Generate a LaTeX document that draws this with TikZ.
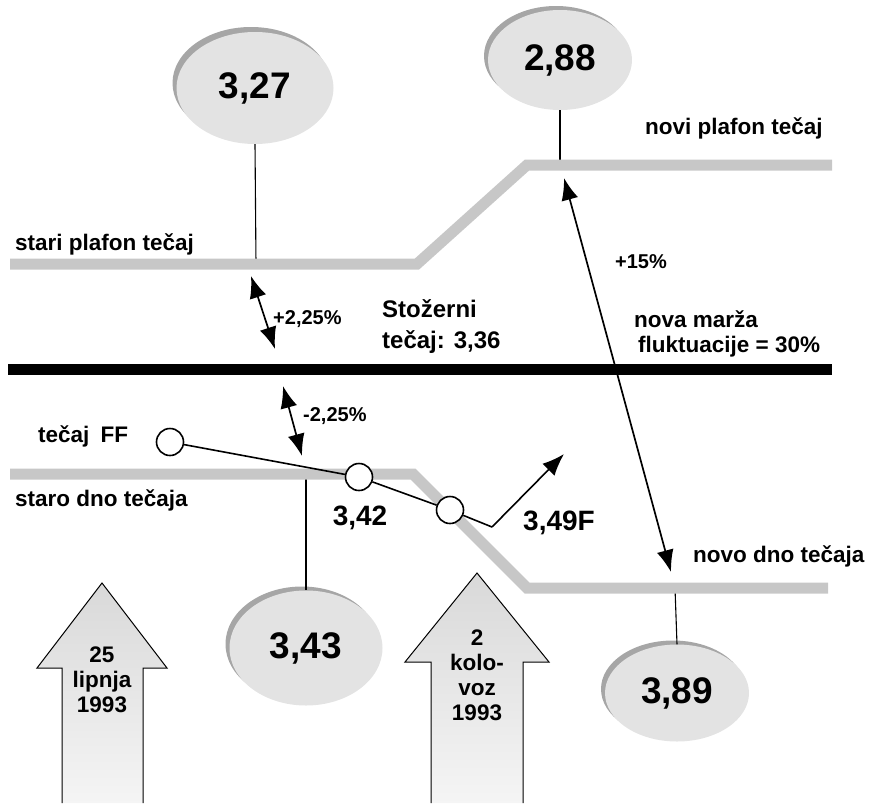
\documentclass[tikz,border=0pt]{standalone}
\usepackage{fontspec}
\setmainfont{Liberation Sans}
\usetikzlibrary{shapes.geometric,arrows.meta}
\newcommand\lblfont{\fontsize{22.5}{25}\selectfont\bfseries}
\newcommand\bigfont{\fontsize{37}{40}\selectfont\bfseries}
\newcommand\midfont{\fontsize{28}{30}\selectfont\bfseries}
\newcommand\pctfont{\fontsize{20}{22}\selectfont\bfseries}
\begin{document}
\begin{tikzpicture}[x=1pt,y=-1pt,
  band/.style={line width=11pt, draw=black!22, line join=miter},
  midband/.style={line width=11pt, draw=black},
  conn/.style={line width=1.1pt, draw=black},
  disk/.style={ellipse, fill=black!11, inner sep=0pt, font=\bigfont},
  rim/.style={fill=black!35},
  ffline/.style={line width=1.6pt},
  ffc/.style={circle, draw=black, line width=1.6pt, fill=white, minimum size=27pt, inner sep=0pt},
  lbl/.style={font=\lblfont, inner sep=0pt},
  pct/.style={font=\pctfont, inner sep=0pt},
  bigarrow/.style={top color=black!15, bottom color=black!4},
  datetxt/.style={font=\lblfont, align=center, inner sep=0pt}
]
\useasboundingbox (0,0) rectangle (869,803);

% big date arrows
\path[bigarrow] (62,803) -- (62,668) -- (37,668) -- (102,583) -- (167,668) -- (143,668) -- (143,803) -- cycle;
\draw[line width=1pt] (62,803) -- (62,668) -- (37,668) -- (102,583) -- (167,668) -- (143,668) -- (143,803);
\path[bigarrow] (431,803) -- (431,662) -- (405,662) -- (477,573) -- (549,662) -- (523,662) -- (523,803) -- cycle;
\draw[line width=1pt] (431,803) -- (431,662) -- (405,662) -- (477,573) -- (549,662) -- (523,662) -- (523,803);
\node[datetxt] (d1) at (102,680) {25\\lipnja\\1993};
\node[datetxt, text height=17pt] (d2) at (477,712) {2\\kolo-\\voz\\1993};

% ellipse rims
\fill[rim] (251,83) ellipse [x radius=78.5pt, y radius=56pt];
\fill[rim] (556,56) ellipse [x radius=72pt, y radius=50pt];
\fill[rim] (302,644) ellipse [x radius=76.5pt, y radius=57.5pt];
\fill[rim] (673,689) ellipse [x radius=72pt, y radius=48.5pt];

% ellipses
\node[disk, minimum width=157pt, minimum height=112pt] (e327) at (255,88) {3,27};
\node[disk, minimum width=144pt, minimum height=100pt] (e288) at (560,60) {2,88};
\node[disk, minimum width=153pt, minimum height=115pt] (e343) at (306,648) {3,43};
\node[disk, minimum width=144pt, minimum height=97pt] (e389) at (677,693) {3,89};

% band anchor points
\coordinate (b327) at (256,264);
\coordinate (b288) at (560,165);
\coordinate (b343) at (306,474);
\coordinate (b389) at (675,588);
\draw[conn] (e327.south) -- (b327);
\draw[conn] (e288.south) -- (b288);
\draw[conn] (b343) -- (e343.north);
\draw[conn] (b389) -- (e389.north);

% bands
\draw[band] (10,264) -- (417,264) -- (527,165) -- (832,165);
\draw[band] (10,474) -- (413,474) -- (527,588) -- (828,588);
\draw[midband] (8,369) -- (832,369);

% labels
\node[lbl, anchor=west] (t1) at (15,244) {stari plafon tečaj};
\node[lbl, anchor=west] (t2) at (645,128) {novi plafon tečaj};
\node[lbl, anchor=west] (t3) at (15,500) {staro dno tečaja};
\node[lbl, anchor=west] (t4) at (693,556) {novo dno tečaja};
\node[lbl, anchor=west] (t5) at (38,436) {tečaj\hspace{0.5em}FF};
\node[font=\fontsize{24}{31}\selectfont\bfseries, align=left, anchor=west, inner sep=0pt] (t6) at (382,327) {Stožerni\\tečaj: 3,36};
\node[lbl, align=left, anchor=west] (t7) at (634,334) {nova marža\\\hspace{4pt}fluktuacije = 30\%};

% percentage arrows
\coordinate (a1s) at (251,276);
\coordinate (a1e) at (275,349);
\coordinate (a2s) at (283,386);
\coordinate (a2e) at (302,456);
\coordinate (a3s) at (564,178);
\coordinate (a3e) at (671,572);
\draw[line width=1.7pt, {Latex[length=22pt,width=17pt]}-{Latex[length=22pt,width=17pt]}] (a1s) -- (a1e);
\draw[line width=1.7pt, {Latex[length=22pt,width=17pt]}-{Latex[length=22pt,width=17pt]}] (a2s) -- (a2e);
\draw[line width=1.7pt, {Latex[length=22pt,width=17pt]}-{Latex[length=22pt,width=17pt]}] (a3s) -- (a3e);
\node[pct, anchor=west] (p1) at (273,319) {+2,25\%};
\node[pct, anchor=west] (p2) at (303,416) {-2,25\%};
\node[pct] (p3) at (641,262) {+15\%};

% FF path
\node[ffc] (c1) at (170,442) {};
\node[ffc] (c2) at (359,477) {};
\node[ffc] (c3) at (450,510) {};
\coordinate (k1) at (492,527);
\coordinate (k2) at (564,454);
\draw[ffline] (c1) -- (c2) -- (c3) -- (k1);
\draw[ffline, -{Latex[length=22pt,width=17pt]}] (k1) -- (k2);
\node[font=\midfont, inner sep=0pt] (n342) at (360,518) {3,42};
\node[font=\midfont, inner sep=0pt, anchor=west] (n349) at (523,523) {3,49F};
\end{tikzpicture}
\end{document}
